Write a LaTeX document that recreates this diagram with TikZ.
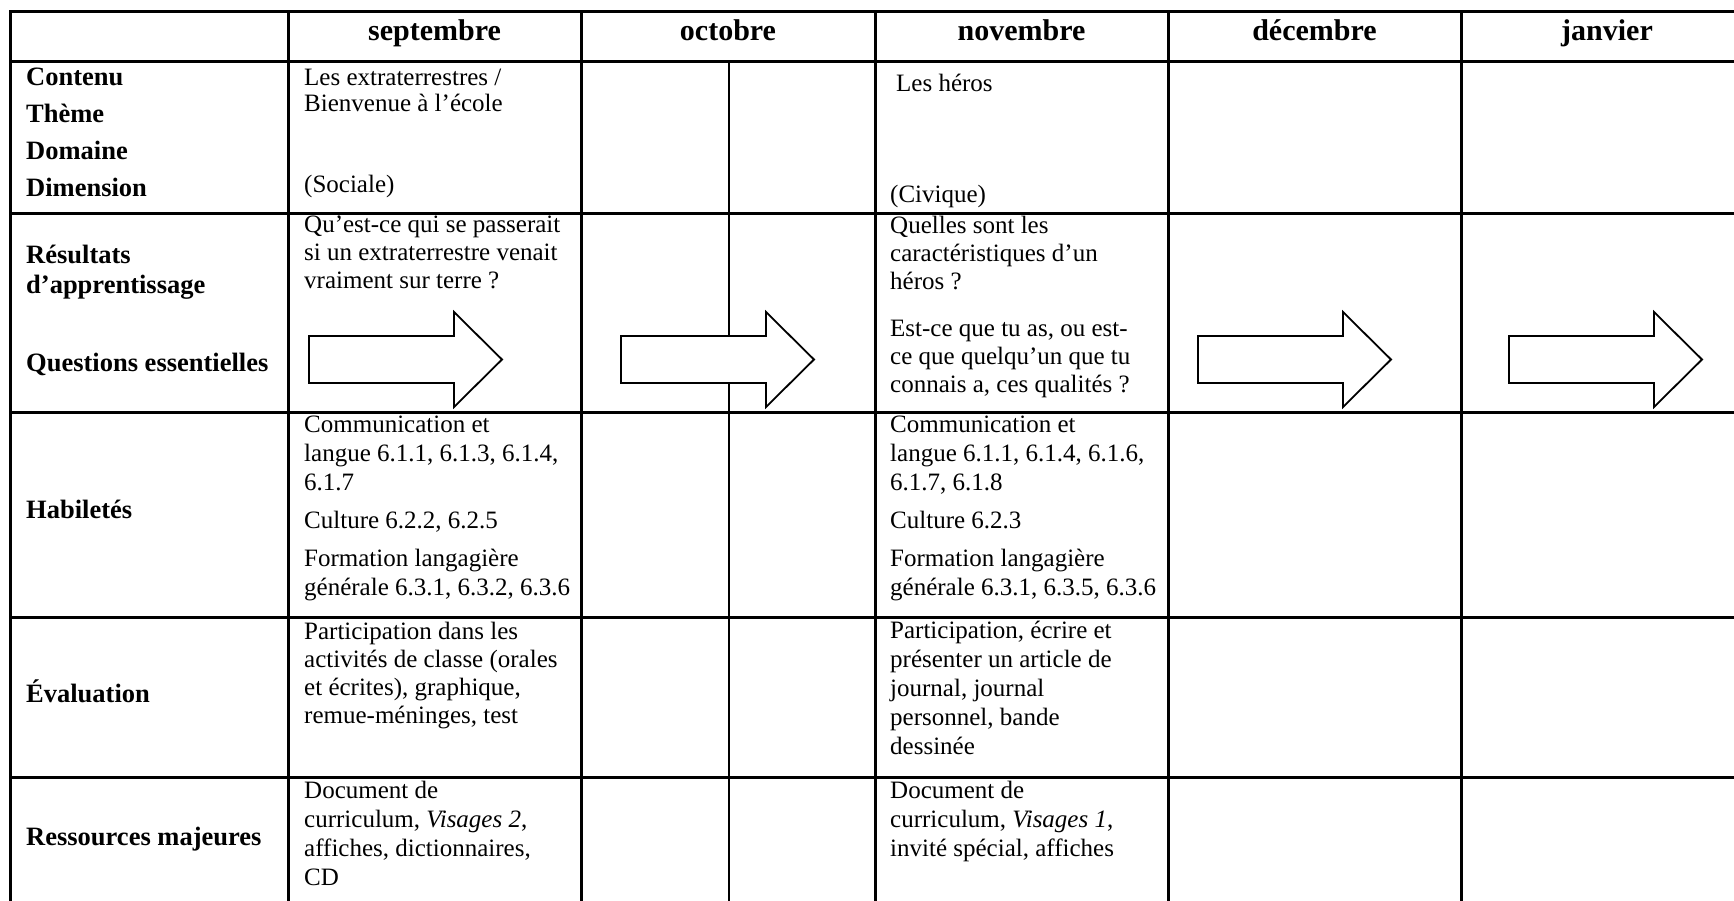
\documentclass[tikz,border=0pt]{standalone}
\usepackage{fontspec}
\setmainfont{Liberation Serif}

\begin{document}
\begin{tikzpicture}[x=1pt,y=-1pt,
  rule/.style={black,line width=3pt,line cap=rect},
  thinrule/.style={black,line width=2.2pt},
  monthhead/.style={font=\bfseries\fontsize{30}{34}\selectfont,anchor=base,inner sep=0pt},
  rowlabel/.style={font=\bfseries\fontsize{26.5}{30}\selectfont,anchor=north west,align=left,inner sep=0pt,execute at begin node=\strut},
  celltext/.style={font=\fontsize{25}{29}\selectfont,anchor=north west,align=left,inner sep=0pt,execute at begin node=\strut},
  blockarrow/.style={draw=black,fill=white,line width=1.8pt,line join=miter}]

% Background
\useasboundingbox (0,0) rectangle (1734,900);
\clip (0,0) rectangle (1734,900);
\fill[white] (0,0) rectangle (1734,900);

% Table Lines
\foreach \y in {11,61,213,412,617,777} {\draw[rule] (10,\y) -- (1745,\y);}
\foreach \x in {10,288,581,875,1168,1461} {\draw[rule] (\x,11) -- (\x,910);}
\draw[thinrule] (729,61) -- (729,910);

% Arrows
\foreach \ax in {309,621,1198,1509} {
  \filldraw[blockarrow] (\ax,336) -- ({\ax+145},336) -- ({\ax+145},312) -- ({\ax+193},359.5)
    -- ({\ax+145},407) -- ({\ax+145},383) -- (\ax,383) -- cycle;
}

% Months
\node[monthhead] (head-sep) at (434.5,40) {septembre};
\node[monthhead] (head-oct) at (728,40) {octobre};
\node[monthhead] (head-nov) at (1021.5,40) {novembre};
\node[monthhead] (head-dec) at (1314.5,40) {décembre};
\node[monthhead] (head-jan) at (1607,40) {janvier};

% Row Labels
\node[rowlabel] (lbl-contenu) at (26,68) {Contenu\\[7pt]Thème\\[7pt]Domaine\\[7pt]Dimension};
\node[rowlabel] (lbl-resultats) at (26,245) {Résultats\\d’apprentissage};
\node[rowlabel] (lbl-questions) at (26,350) {Questions essentielles};
\node[rowlabel] (lbl-habiletes) at (26,497) {Habiletés};
\node[rowlabel] (lbl-evaluation) at (26,680) {Évaluation};
\node[rowlabel] (lbl-ressources) at (26,824) {Ressources majeures};

% Septembre
\node[celltext] (sep-theme) at (304,68.7) {Les extraterrestres /\\[-3pt]Bienvenue à l’école};
\node[celltext] (sep-dim) at (304,171.7) {(Sociale)};
\node[celltext] (sep-questions) at (304,215.7) {Qu’est-ce qui se passerait\\[-1pt]si un extraterrestre venait\\[-1pt]vraiment sur terre ?};
\node[celltext] (sep-habiletes) at (304,415.7) {Communication et\\langue 6.1.1, 6.1.3, 6.1.4,\\6.1.7\\[9pt]Culture 6.2.2, 6.2.5\\[9pt]Formation langagière\\générale 6.3.1, 6.3.2, 6.3.6};
\node[celltext] (sep-evaluation) at (304,621.7) {Participation dans les\\[-1pt]activités de classe (orales\\[-1pt]et écrites), graphique,\\[-1pt]remue-méninges, test};
\node[celltext] (sep-ressources) at (304,780.7) {Document de\\curriculum, \textit{Visages 2},\\affiches, dictionnaires,\\CD};

% Novembre
\node[celltext] (nov-theme) at (896,70.7) {Les héros};
\node[celltext] (nov-dim) at (890,181.7) {(Civique)};
\node[celltext] (nov-questions) at (890,215.7) {Quelles sont les\\[-1pt]caractéristiques d’un\\[-1pt]héros ?\\[18pt]Est-ce que tu as, ou est-\\[-1pt]ce que quelqu’un que tu\\[-1pt]connais a, ces qualités ?};
\node[celltext] (nov-habiletes) at (890,415.7) {Communication et\\langue 6.1.1, 6.1.4, 6.1.6,\\6.1.7, 6.1.8\\[9pt]Culture 6.2.3\\[9pt]Formation langagière\\générale 6.3.1, 6.3.5, 6.3.6};
\node[celltext] (nov-evaluation) at (890,620.7) {Participation, écrire et\\présenter un article de\\journal, journal\\personnel, bande\\dessinée};
\node[celltext] (nov-ressources) at (890,780.7) {Document de\\curriculum, \textit{Visages 1},\\invité spécial, affiches};
\end{tikzpicture}
\end{document}
